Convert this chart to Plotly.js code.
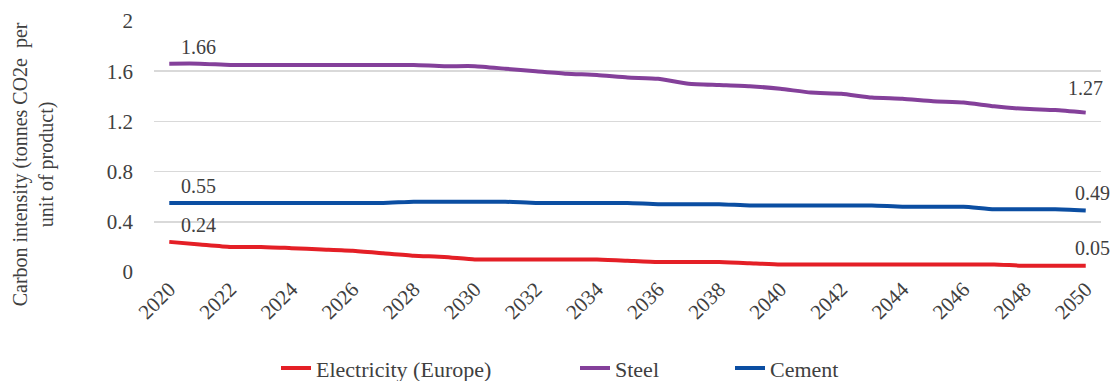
<!DOCTYPE html>
<html>
<head>
<meta charset="utf-8">
<script src="https://cdn.plot.ly/plotly-3.0.1.min.js"></script>
<style>
  html, body { margin: 0; padding: 0; background: #fff; }
  #chart { width: 1115px; height: 381px; }
</style>
</head>
<body>
<div id="chart"></div>
<script>
// Carbon intensity pathways, 2020–2050 (tonnes CO2e per unit of product)
const years = [2020, 2021, 2022, 2023, 2024, 2025, 2026, 2027, 2028, 2029,
               2030, 2031, 2032, 2033, 2034, 2035, 2036, 2037, 2038, 2039,
               2040, 2041, 2042, 2043, 2044, 2045, 2046, 2047, 2048, 2049, 2050];

const electricityEurope = [0.24, 0.22, 0.20, 0.20, 0.19, 0.18, 0.17, 0.15, 0.13, 0.12,
                           0.10, 0.10, 0.10, 0.10, 0.10, 0.09, 0.08, 0.08, 0.08, 0.07,
                           0.06, 0.06, 0.06, 0.06, 0.06, 0.06, 0.06, 0.06, 0.05, 0.05, 0.05];

const steel = [1.66, 1.66, 1.65, 1.65, 1.65, 1.65, 1.65, 1.65, 1.65, 1.64,
               1.64, 1.62, 1.60, 1.58, 1.57, 1.55, 1.54, 1.50, 1.49, 1.48,
               1.46, 1.43, 1.42, 1.39, 1.38, 1.36, 1.35, 1.32, 1.30, 1.29, 1.27];

const cement = [0.55, 0.55, 0.55, 0.55, 0.55, 0.55, 0.55, 0.55, 0.56, 0.56,
                0.56, 0.56, 0.55, 0.55, 0.55, 0.55, 0.54, 0.54, 0.54, 0.53,
                0.53, 0.53, 0.53, 0.53, 0.52, 0.52, 0.52, 0.50, 0.50, 0.50, 0.49];

const seriesNames = ['Electricity (Europe)', 'Steel', 'Cement'];
const yTicks = [0, 0.4, 0.8, 1.2, 1.6, 2];
const xTicks = [2020, 2022, 2024, 2026, 2028, 2030, 2032, 2034, 2036, 2038,
                2040, 2042, 2044, 2046, 2048, 2050];

const FONT = 'Liberation Serif';
const TEXT = '#404040';
const colors = ['#e41f26', '#84409a', '#0b4ea2'];
const seriesValues = [electricityEurope, steel, cement];
const legendIds = ['legend', 'legend2', 'legend3'];

const traces = seriesValues.map((vals, i) => ({
  type: 'scatter',
  mode: 'lines',
  x: years,
  y: vals,
  name: seriesNames[i],
  legend: legendIds[i],
  line: { color: colors[i], width: 4, shape: 'spline', smoothing: 0.5 },
  hoverinfo: 'skip'
}));

// End-point value labels for each series
const annotations = [];
const first = 0, last = years.length - 1;
seriesValues.forEach((vals, i) => {
  annotations.push({
    x: years[first], y: vals[first], xref: 'x', yref: 'y',
    text: vals[first].toFixed(2), showarrow: false,
    xanchor: 'center', yanchor: 'bottom', xshift: 29, yshift: 4,
    font: { family: FONT, size: 20, color: TEXT }
  });
  annotations.push({
    x: years[last], y: vals[last], xref: 'x', yref: 'y',
    text: vals[last].toFixed(2), showarrow: false,
    xanchor: 'center', yanchor: 'bottom', xshift: i === 1 ? 0 : 7, yshift: i === 1 ? 12 : 5,
    font: { family: FONT, size: 20, color: TEXT }
  });
});

// Axis title, rotated and placed left of the tick labels
annotations.push({
  xref: 'paper', yref: 'paper',
  x: -0.1275, y: 0.43,
  xanchor: 'center', yanchor: 'middle',
  textangle: -90, showarrow: false,
  text: 'Carbon intensity (tonnes CO2e  per<br>unit of product)',
  font: { family: FONT, size: 20, color: TEXT }
});

const legendStyle = (x) => ({
  orientation: 'h',
  x: x, xanchor: 'left',
  y: -0.383, yanchor: 'middle',
  bgcolor: 'rgba(0,0,0,0)',
  font: { family: FONT, size: 22, color: TEXT },
  itemclick: false, itemdoubleclick: false
});

const layout = {
  width: 1115,
  height: 381,
  margin: { l: 154, r: 14, t: 21, b: 109, autoexpand: false },
  paper_bgcolor: '#ffffff',
  plot_bgcolor: '#ffffff',
  font: { family: FONT, size: 20, color: TEXT },
  showlegend: true,
  legend: legendStyle((276 - 154) / 947),
  legend2: legendStyle((575 - 154) / 947),
  legend3: legendStyle((730 - 154) / 947),
  xaxis: {
    range: [2019.5, 2050.5],
    tickmode: 'array',
    tickvals: xTicks,
    ticktext: xTicks.map(String),
    tickangle: -45,
    showgrid: false,
    zeroline: false,
    showline: false,
    ticks: '',
    automargin: false,
    tickfont: { family: FONT, size: 21, color: TEXT },
    fixedrange: true
  },
  yaxis: {
    range: [0, 2],
    tickmode: 'array',
    tickvals: yTicks,
    ticktext: yTicks.map(v => String(v)),
    showgrid: true,
    gridcolor: '#d9d9d9',
    gridwidth: 1.5,
    zeroline: false,
    showline: false,
    ticks: '',
    automargin: false,
    ticklabelstandoff: 20,
    tickfont: { family: FONT, size: 21, color: TEXT },
    fixedrange: true
  },
  annotations: annotations
};

Plotly.newPlot('chart', traces, layout, { displayModeBar: false, staticPlot: true });
</script>
</body>
</html>
